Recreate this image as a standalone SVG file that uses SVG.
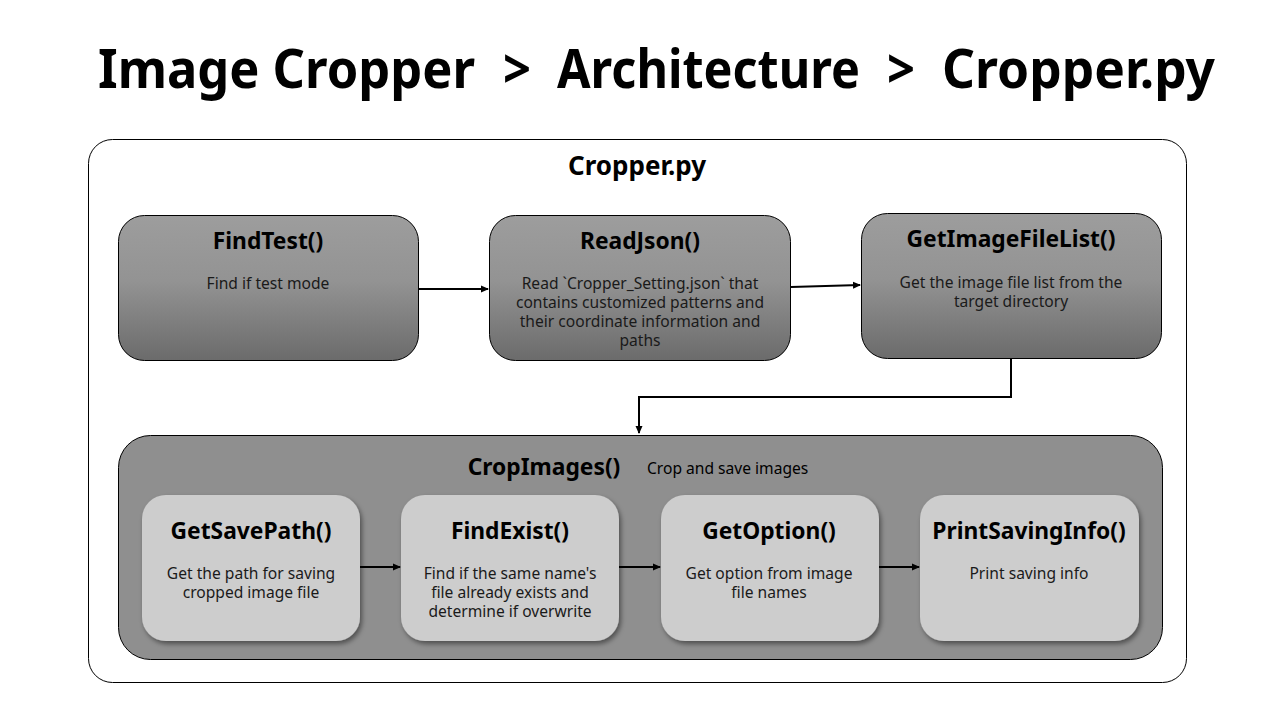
<svg xmlns="http://www.w3.org/2000/svg" width="1280" height="720" viewBox="0 0 1280 720">
<style>
text{font-family:"Noto Sans","Open Sans","Liberation Sans",sans-serif;fill:#000}
.h{font-size:53px;font-weight:bold}
.t{font-weight:bold;font-size:22.8px;text-anchor:middle}
.d{font-size:15.6px;text-anchor:middle;fill:#1a1a1a}
.top{fill:url(#g);stroke:#000;stroke-width:1}
.in{fill:#cdcdcd;stroke:none;filter:url(#sh)}
.c{fill:none;stroke:#000;stroke-width:2}
</style>
<defs>
<linearGradient id="g" x1="0" y1="0" x2="0" y2="1">
<stop offset="0" stop-color="#9d9d9d"/>
<stop offset="0.45" stop-color="#939393"/>
<stop offset="1" stop-color="#6b6b6b"/>
</linearGradient>
<filter id="sh" x="-10%" y="-10%" width="125%" height="125%">
<feDropShadow dx="2" dy="3" stdDeviation="2.5" flood-color="#000" flood-opacity="0.45"/>
</filter>
<marker id="ah" markerWidth="8" markerHeight="8" refX="7" refY="4" orient="auto" markerUnits="userSpaceOnUse">
<path d="M0,0.5 L8,4 L0,7.5 z" fill="#000"/>
</marker>
</defs>
<rect width="1280" height="720" fill="#fff"/>
<g id="title">
<text class="h" x="98" y="88" textLength="377" lengthAdjust="spacingAndGlyphs">Image Cropper</text>
<text class="h" x="503" y="88" textLength="28" lengthAdjust="spacingAndGlyphs">&gt;</text>
<text class="h" x="557" y="88" textLength="303" lengthAdjust="spacingAndGlyphs">Architecture</text>
<text class="h" x="887" y="88" textLength="28" lengthAdjust="spacingAndGlyphs">&gt;</text>
<text class="h" x="942" y="88" textLength="273" lengthAdjust="spacingAndGlyphs">Cropper.py</text>
</g>

<g id="cropper-py">
<rect x="88.5" y="139.5" width="1098" height="543" rx="24" fill="#fff" stroke="#000" stroke-width="1"/>
<text x="637" y="175" font-size="26" font-weight="bold" text-anchor="middle">Cropper.py</text>
</g>

<g id="findtest">
<rect class="top" x="118.5" y="215.5" width="300" height="145" rx="26"/>
<text class="t" x="268" y="249">FindTest()</text>
<text class="d" x="268" y="289">Find if test mode</text>
</g>

<g id="readjson">
<rect class="top" x="489.5" y="215.5" width="301" height="145" rx="26"/>
<text class="t" x="640" y="249">ReadJson()</text>
<text class="d" x="640" y="289">Read `Cropper_Setting.json` that</text>
<text class="d" x="640" y="308">contains customized patterns and</text>
<text class="d" x="640" y="327">their coordinate information and</text>
<text class="d" x="640" y="346">paths</text>
</g>

<g id="getimagefilelist">
<rect class="top" x="861.5" y="213.5" width="300" height="145" rx="26"/>
<text class="t" x="1011" y="247">GetImageFileList()</text>
<text class="d" x="1011" y="288">Get the image file list from the</text>
<text class="d" x="1011" y="307">target directory</text>
</g>

<g id="cropimages">
<rect x="118.5" y="435.5" width="1044" height="224" rx="32" fill="#8f8f8f" stroke="#000" stroke-width="1"/>
<text class="t" x="544" y="475">CropImages()</text>
<text x="647" y="474" font-size="15.6" fill="#1a1a1a">Crop and save images</text>
</g>

<g id="getsavepath">
<rect class="in" x="142" y="495" width="218" height="146" rx="24"/>
<text class="t" x="251" y="539">GetSavePath()</text>
<text class="d" x="251" y="579">Get the path for saving</text>
<text class="d" x="251" y="598">cropped image file</text>
</g>

<g id="findexist">
<rect class="in" x="401" y="495" width="218" height="146" rx="24"/>
<text class="t" x="510" y="539">FindExist()</text>
<text class="d" x="510" y="579">Find if the same name's</text>
<text class="d" x="510" y="598">file already exists and</text>
<text class="d" x="510" y="617">determine if overwrite</text>
</g>

<g id="getoption">
<rect class="in" x="661" y="495" width="218" height="146" rx="24"/>
<text class="t" x="769" y="539">GetOption()</text>
<text class="d" x="769" y="579">Get option from image</text>
<text class="d" x="769" y="598">file names</text>
</g>

<g id="printsavinginfo">
<rect class="in" x="920" y="495" width="219" height="146" rx="24"/>
<text class="t" x="1029" y="539">PrintSavingInfo()</text>
<text class="d" x="1029" y="579">Print saving info</text>
</g>

<g id="connectors">
<line class="c" x1="419" y1="289" x2="488" y2="289" marker-end="url(#ah)"/>
<line class="c" x1="791" y1="287" x2="860" y2="285" marker-end="url(#ah)"/>
<polyline class="c" points="1011,359 1011,397 639,397 639,433" marker-end="url(#ah)"/>
<line class="c" x1="360" y1="567" x2="400" y2="567" marker-end="url(#ah)"/>
<line class="c" x1="619" y1="567" x2="660" y2="567" marker-end="url(#ah)"/>
<line class="c" x1="879" y1="567" x2="919" y2="567" marker-end="url(#ah)"/>
</g>
</svg>
